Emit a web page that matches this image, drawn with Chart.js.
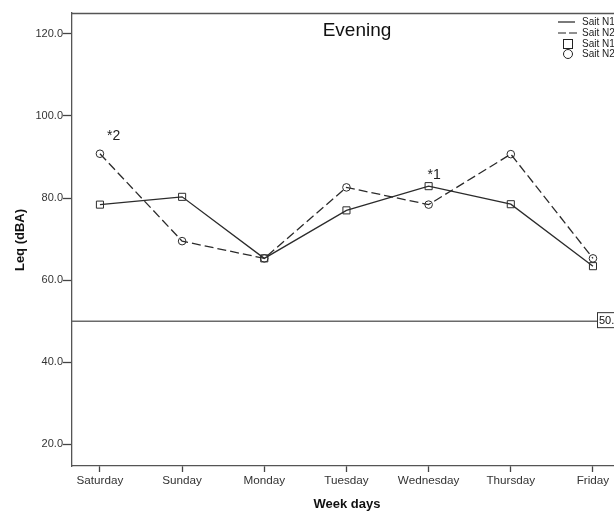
<!DOCTYPE html>
<html>
<head>
<meta charset="utf-8">
<script src="https://cdn.jsdelivr.net/npm/chart.js@4"></script>
<style>
html,body{margin:0;padding:0;background:#fff;}
#wrap{width:614px;height:514px;position:relative;}
</style>
</head>
<body>
<div id="wrap"><canvas id="c" width="614" height="514"></canvas></div>
<script>
const days = ["Saturday","Sunday","Monday","Tuesday","Wednesday","Thursday","Friday"];
const saitN1 = [78.4, 80.3, 65.3, 77.0, 82.9, 78.5, 63.4];
const saitN2 = [90.8, 69.5, 65.3, 82.6, 78.4, 90.7, 65.3];
const yTicks = [20, 40, 60, 80, 100, 120];
const refValue = 50;
const legendLabels = ["Sait N1", "Sait N2", "Sait N1", "Sait N2"];
const notes = [{day: 0, text: "*2", series: "N2"}, {day: 4, text: "*1", series: "N1"}];
const titleText = "Evening";

const X_MIN = -0.34, X_MAX = 6.256;
const FONT = "'Liberation Sans', Arial, sans-serif";
const INK = "#2b2b2b";

const toPts = arr => arr.map((v,i)=>({x:i,y:v}));

const extras = {
  id: 'extras',
  afterDraw(chart) {
    const ctx = chart.ctx, ca = chart.chartArea;
    const xs = chart.scales.x, ys = chart.scales.y;
    ctx.save();
    // top frame
    ctx.strokeStyle = '#555'; ctx.lineWidth = 1.3;
    ctx.beginPath(); ctx.moveTo(ca.left, ca.top + 0.5); ctx.lineTo(ca.right, ca.top + 0.5); ctx.stroke();
    // title
    ctx.fillStyle = '#111'; ctx.font = '19px ' + FONT;
    ctx.textAlign = 'center'; ctx.textBaseline = 'middle';
    ctx.fillText(titleText, 357, 31);
    // axis titles
    ctx.font = 'bold 13px ' + FONT;
    ctx.fillText('Week days', 347, 504);
    ctx.save(); ctx.translate(20, 240); ctx.rotate(-Math.PI/2);
    ctx.fillText('Leq (dBA)', 0, 0); ctx.restore();
    // annotations
    ctx.font = '14px ' + FONT; ctx.fillStyle = '#222'; ctx.textAlign = 'left';
    notes.forEach(n => {
      const v = n.series === 'N2' ? saitN2[n.day] : saitN1[n.day];
      const px = xs.getPixelForValue(n.day), py = ys.getPixelForValue(v);
      ctx.fillText(n.text, px + (n.day === 0 ? 7 : -1), py - (n.day === 0 ? 18 : 11));
    });
    // ref line label
    const ry = ys.getPixelForValue(refValue);
    ctx.fillStyle = '#fff'; ctx.strokeStyle = '#333'; ctx.lineWidth = 1;
    ctx.fillRect(597.5, ry - 8.5, 30, 15); ctx.strokeRect(597.5, ry - 8.5, 30, 15);
    ctx.fillStyle = '#111'; ctx.font = '11px ' + FONT; ctx.textBaseline = 'middle';
    ctx.fillText(refValue.toFixed(1), 599, ry);
    // legend
    ctx.font = '10px ' + FONT; ctx.fillStyle = '#222'; ctx.strokeStyle = '#222'; ctx.lineWidth = 1.2;
    const ly = [22, 33, 44, 54], tx = 582;
    ctx.beginPath(); ctx.moveTo(558, ly[0]); ctx.lineTo(575, ly[0]); ctx.stroke();
    ctx.setLineDash([8, 3]); ctx.beginPath(); ctx.moveTo(558, ly[1]); ctx.lineTo(579, ly[1]); ctx.stroke(); ctx.setLineDash([]);
    ctx.lineWidth = 1;
    ctx.strokeRect(563.5, ly[2] - 4.5, 9, 9);
    ctx.beginPath(); ctx.arc(568, ly[3], 4.5, 0, Math.PI*2); ctx.stroke();
    legendLabels.forEach((t,i)=> ctx.fillText(t, tx, ly[i]));
    ctx.restore();
  }
};

new Chart(document.getElementById('c'), {
  type: 'line',
  data: {
    datasets: [
      {
        label: 'ref', data: [{x:X_MIN,y:refValue},{x:X_MAX,y:refValue}],
        borderColor: '#6a6a6a', borderWidth: 1.5, pointRadius: 0, order: 3
      },
      {
        label: 'Sait N1', data: toPts(saitN1),
        borderColor: INK, borderWidth: 1.3, pointStyle: 'rect', pointRadius: 5,
        pointBorderColor: INK, pointBackgroundColor: 'rgba(0,0,0,0)', pointBorderWidth: 1, tension: 0
      },
      {
        label: 'Sait N2', data: toPts(saitN2),
        borderColor: INK, borderWidth: 1.3, borderDash: [9, 4], pointStyle: 'circle', pointRadius: 3.8,
        pointBorderColor: INK, pointBackgroundColor: 'rgba(0,0,0,0)', pointBorderWidth: 1, tension: 0
      }
    ]
  },
  options: {
    responsive: false, animation: false, devicePixelRatio: 1,
    layout: { autoPadding: false, padding: { left: 0, right: 0, top: 13, bottom: 0 } },
    plugins: { legend: { display: false }, tooltip: { enabled: false }, title: { display: false } },
    scales: {
      x: {
        type: 'linear', min: X_MIN, max: X_MAX,
        afterBuildTicks: s => { s.ticks = days.map((d,i)=>({value:i})); },
        afterFit: s => { s.height = 48; s.paddingLeft = 0; s.paddingRight = 0; },
        ticks: { callback: v => days[v], color: '#333', font: { size: 11.7, family: FONT }, padding: 2, maxRotation: 0, autoSkip: false },
        grid: { display: true, drawOnChartArea: false, drawTicks: true, tickLength: 6, tickColor: '#444', tickWidth: 1.3 },
        border: { display: true, color: '#555', width: 1.3 }
      },
      y: {
        type: 'linear', min: 14.7, max: 125.1,
        afterBuildTicks: s => { s.ticks = yTicks.map(v=>({value:v})); },
        afterFit: s => { s.width = 72; s.paddingTop = 0; s.paddingBottom = 0; },
        ticks: { callback: v => Number(v).toFixed(1), color: '#333', font: { size: 11, family: FONT }, padding: 0 },
        grid: { display: true, drawOnChartArea: false, drawTicks: true, tickLength: 9, tickColor: '#444', tickWidth: 1.3 },
        border: { display: true, color: '#555', width: 1.3 }
      }
    }
  },
  plugins: [extras]
});
</script>
</body>
</html>
